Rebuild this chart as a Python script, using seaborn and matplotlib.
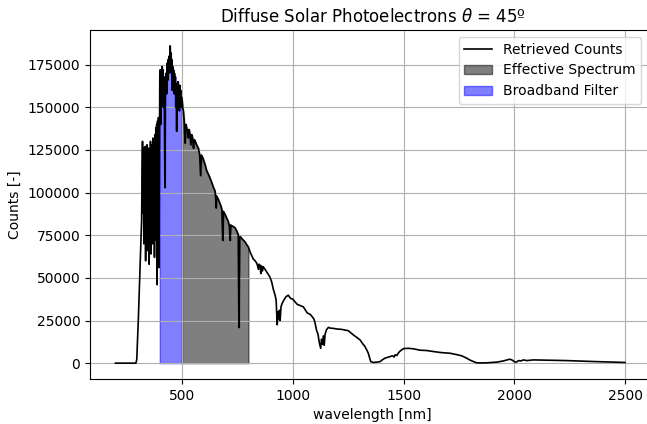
import numpy as np
import pandas as pd
import matplotlib
matplotlib.use("Agg")
import matplotlib.pyplot as plt
import seaborn as sns

# Retrieved photoelectron counts per wavelength (nm)
wavelength = [
    200, 250, 292, 296, 303, 310, 315, 318,
    320, 322, 324, 326, 328, 330, 332, 334, 336, 338, 340, 342, 344, 346, 348, 350,
    352, 354, 356, 358, 360, 362, 364, 366, 368, 370, 372, 374, 376, 378, 380, 382,
    384, 386, 388, 390, 392, 394, 396, 398,
    400, 402, 404, 406, 408, 410, 412, 414, 416, 418, 420, 423, 425, 428, 431, 434,
    436, 438, 440, 442, 444, 446, 448, 450, 452, 454, 456, 458, 460, 462, 464, 466,
    468, 470, 472, 474, 476, 478, 480, 482, 484, 486, 488, 490, 492, 494, 496, 498,
    500, 503, 506, 510, 514, 518, 521, 525, 529, 532, 536, 540, 544, 548, 552, 556,
    560, 566, 570, 574, 580, 584, 588, 595, 600, 605, 611, 618, 625, 634, 642, 649,
    652, 654, 656, 660, 664, 670, 676, 680, 684, 687, 695, 702, 709, 714, 717, 720,
    726, 732, 739, 745, 750, 754, 757, 760, 765, 770, 778, 785, 792, 800,
    808, 815, 822, 830, 838, 845, 848, 852, 856, 859, 863, 867, 875, 882, 890, 897,
    905, 912, 920, 925, 930, 933, 936, 940, 943, 947, 952, 960, 970, 980, 990, 1000,
    1020, 1048, 1065, 1080, 1095, 1100, 1108, 1114, 1120, 1126, 1130, 1134, 1138,
    1142, 1146, 1152, 1161, 1170, 1183, 1200, 1221, 1240, 1251, 1265, 1274, 1290,
    1304, 1315, 1326, 1335, 1341, 1347, 1352, 1364, 1380, 1394, 1405, 1416, 1430,
    1439, 1450, 1458, 1462, 1470, 1477, 1484, 1492, 1499, 1510, 1522, 1545, 1574,
    1605, 1635, 1670, 1710, 1740, 1763, 1785, 1800, 1815, 1830, 1850, 1876, 1900,
    1921, 1951, 1970, 1981, 1990, 1996, 2003, 2010, 2019, 2030, 2041, 2056, 2086,
    2120, 2162, 2200, 2237, 2300, 2357, 2400, 2447, 2500,
]
counts = [
    0, 0, 0, 2000, 25000, 52000, 72000, 84000,
    112000, 130000, 88000, 126000, 70000, 118000, 84000, 127000, 60000, 122000, 78000, 128000, 66000, 120000, 90000, 126000,
    58000, 124000, 82000, 130000, 64000, 118000, 92000, 128000, 70000, 132000, 86000, 126000, 62000, 134000, 96000, 138000,
    72000, 140000, 46000, 142000, 88000, 144000, 56000, 120000,
    168000, 172000, 140000, 170000, 165000, 174000, 160000, 172000, 150000, 168000, 162000, 103000, 160000, 170000, 158000, 176000,
    166000, 178000, 170000, 180000, 172000, 186000, 176000, 182000, 170000, 178000, 160000, 174000, 166000, 172000, 158000, 170000,
    160000, 168000, 150000, 164000, 136000, 162000, 156000, 165000, 150000, 160000, 148000, 163000, 155000, 160000, 150000, 156000,
    154000, 150000, 148000, 142000, 129000, 140000, 138000, 136000, 132000, 137000, 134000, 128000, 134000, 132000, 126000, 131000,
    130000, 128000, 127000, 126000, 122000, 110000, 122000, 120000, 118000, 116000, 113000, 111000, 109000, 106000, 103000, 101000,
    97000, 91000, 98000, 97000, 96000, 94000, 92000, 90000, 72000, 89000, 87000, 85000, 83000, 80000, 72000, 81000,
    80500, 80000, 79500, 78000, 76500, 75500, 21000, 74000, 74000, 73000, 72000, 71000, 69500, 68000,
    65000, 63000, 61000, 60000, 58500, 55000, 58000, 57500, 52500, 57000, 54000, 56500, 55000, 53500, 52000, 50500,
    47600, 43500, 40000, 37000, 22500, 30000, 26000, 31000, 25000, 33000, 35000, 37000, 39000, 39800, 38000, 37500,
    34500, 33000, 29500, 28500, 26000, 24000, 19000, 17000, 12000, 8700, 14000, 11000, 16000,
    10500, 17000, 19500, 21000, 20500, 20400, 20000, 19800, 19300, 19000, 17500, 16500, 15000,
    13600, 11500, 9700, 7500, 5800, 3000, 900, 400, 600, 900, 2000, 2900, 3500,
    3900, 4300, 3600, 4900, 4500, 6000, 7000, 7800, 8500, 8600, 8700, 8400, 7600,
    7400, 6800, 6200, 5800, 5000, 4300, 2900, 1800, 950, 200, 150, 200, 400,
    600, 1300, 2000, 2300, 1800, 1300, 600, 700, 1500, 1300, 1900, 1500, 1900,
    1800, 1700, 1600, 1500, 1200, 950, 800, 600, 400,
]

filter_band = (400, 500)
effective_band = (500, 800)

df = pd.DataFrame({"wavelength": wavelength, "counts": counts})

fig = plt.figure(figsize=(6.47, 4.24), dpi=100)
ax = fig.add_axes([0.1391, 0.1061, 0.8733, 0.8231])
ax.grid(True, color="#b0b0b0", lw=0.8)

eff = df[(df.wavelength >= effective_band[0]) & (df.wavelength <= effective_band[1])]
flt = df[(df.wavelength >= filter_band[0]) & (df.wavelength <= filter_band[1])]
ax.fill_between(eff.wavelength, eff.counts, color="k", alpha=0.5, label="Effective Spectrum")
ax.fill_between(flt.wavelength, flt.counts, color="b", alpha=0.5, label="Broadband Filter")

sns.lineplot(data=df, x="wavelength", y="counts", color="k", lw=1.2,
             estimator=None, sort=False, ax=ax, label="Retrieved Counts")

ax.set_xlim(85, 2635)
ax.set_yticks(np.arange(0, 175001, 25000))
ax.set_xticks([500, 1000, 1500, 2000, 2500])
ax.set_title(r"Diffuse Solar Photoelectrons $\theta$ = 45º", fontsize=12)
ax.set_xlabel("wavelength [nm]")
ax.set_ylabel("Counts [-]")

handles, labels = ax.get_legend_handles_labels()
order = [labels.index(n) for n in ("Retrieved Counts", "Effective Spectrum", "Broadband Filter")]
ax.legend([handles[i] for i in order], [labels[i] for i in order],
          loc="upper right", bbox_to_anchor=(0.988, 1.0))

fig.savefig("out.png", dpi=100)
